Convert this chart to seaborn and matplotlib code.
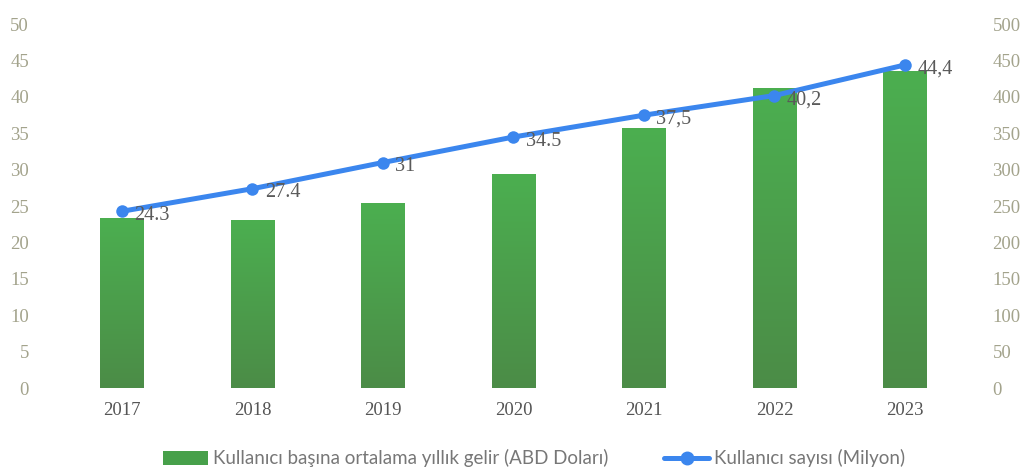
import numpy as np
import pandas as pd
import matplotlib
matplotlib.use("Agg")
import matplotlib.pyplot as plt
from matplotlib.lines import Line2D
from matplotlib.patches import Patch
import seaborn as sns

years = ["2017", "2018", "2019", "2020", "2021", "2022", "2023"]
revenue_per_user = [23.4, 23.1, 25.4, 29.4, 35.8, 41.3, 43.6]
user_count = [24.3, 27.4, 31.0, 34.5, 37.5, 40.2, 44.4]
user_labels = ["24.3", "27.4", "31", "34.5", "37,5", "40,2", "44,4"]
left_ticks = [0, 5, 10, 15, 20, 25, 30, 35, 40, 45, 50]
right_ticks = [0, 50, 100, 150, 200, 250, 300, 350, 400, 450, 500]

bar_name = "Kullanıcı başına ortalama yıllık gelir (ABD Doları)"
line_name = "Kullanıcı sayısı (Milyon)"

df = pd.DataFrame({"yil": years, "gelir": revenue_per_user, "kullanici": user_count})

sns.set_theme(style="white")
serif = ["Liberation Serif", "DejaVu Serif"]

fig = plt.figure(figsize=(10.31, 4.74), dpi=100)
ax = fig.add_axes([0.055, 0.181, 0.886, 0.768])

sns.barplot(data=df, x="yil", y="gelir", color="#4aa54c", width=0.33,
            saturation=1, ax=ax, zorder=2)

# vertical green gradient inside each bar
grad = np.linspace(0, 1, 256).reshape(-1, 1)
cmap = matplotlib.colors.LinearSegmentedColormap.from_list(
    "g", ["#4caf50", "#4b8c47"])
for p in ax.patches:
    x0, y0 = p.get_x(), p.get_y()
    w, h = p.get_width(), p.get_height()
    im = ax.imshow(grad, extent=(x0, x0 + w, y0, y0 + h), origin="upper",
                   cmap=cmap, aspect="auto", zorder=2.5)
    im.set_clip_path(p)

sns.lineplot(data=df, x="yil", y="kullanici", color="#3b86ee", linewidth=3.6,
             marker="o", markersize=9, markeredgewidth=0, ax=ax, zorder=4,
             sort=False)

for i, (v, lab) in enumerate(zip(user_count, user_labels)):
    ax.annotate(lab, (i, v), xytext=(9, -3), textcoords="offset points",
                ha="left", va="center", fontsize=14.5, color="#5a5a5a",
                family=serif, zorder=5)

ax.set_xlim(-0.5, 6.5)
ax.set_ylim(0, 50)
ax.set_yticks(left_ticks)
ax.set_xlabel("")
ax.set_ylabel("")
ax.tick_params(axis="y", labelsize=13.5, colors="#a3a38c", length=0, pad=20)
ax.tick_params(axis="x", labelsize=13.5, colors="#555555", length=0, pad=10)
for t in ax.get_yticklabels() + ax.get_xticklabels():
    t.set_family(serif)
for t in ax.get_yticklabels():
    t.set_horizontalalignment("right")
for s in ax.spines.values():
    s.set_visible(False)

ax2 = ax.twinx()
ax2.set_ylim(0, 500)
ax2.set_yticks(right_ticks)
ax2.tick_params(axis="y", labelsize=13.5, colors="#a3a38c", length=0, pad=16)
for t in ax2.get_yticklabels():
    t.set_family(serif)
for s in ax2.spines.values():
    s.set_visible(False)
ax2.grid(False)
ax.grid(False)

handles = [Patch(facecolor="#47a04a", edgecolor="none"),
           Line2D([0], [0], color="#3b86ee", lw=3.6, marker="o", markersize=9)]
fig.legend(handles, [bar_name, line_name], loc="center", ncol=2,
           bbox_to_anchor=(0.518, 0.033), frameon=False, handlelength=2.4,
           handleheight=0.8, handletextpad=0.25, columnspacing=3.0,
           prop={"family": ["Lato", "DejaVu Sans"], "size": 13.5},
           labelcolor="#777777")

fig.savefig("out.png", dpi=100, facecolor="white")
